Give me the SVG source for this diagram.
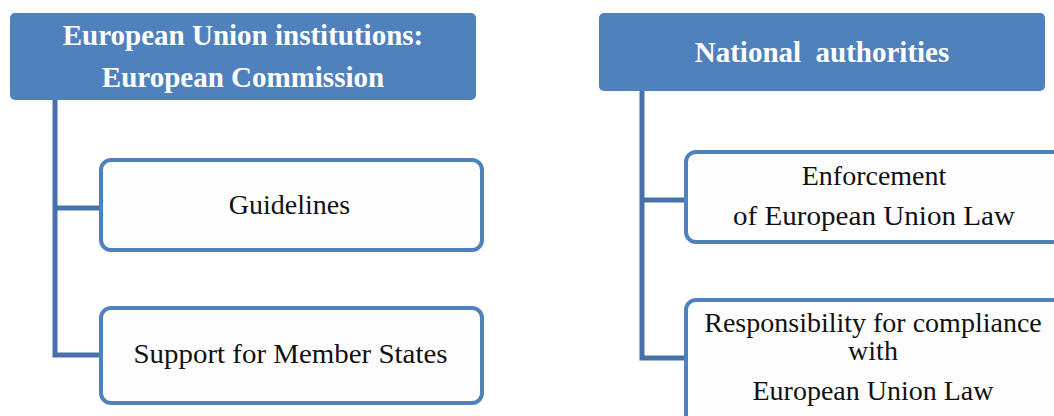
<svg xmlns="http://www.w3.org/2000/svg" width="1054" height="416" viewBox="0 0 1054 416">
<style>
.hdr{fill:#4F81BD;}
.box{fill:#FDFDFD;stroke:#4F81BD;stroke-width:4;}
.ht{font-family:'Liberation Serif',serif;font-weight:bold;font-size:29px;fill:#FFFFFF;text-anchor:middle;}
.bt{font-family:'Liberation Serif',serif;font-size:28px;fill:#111111;text-anchor:middle;}
.conn{fill:none;stroke:#4672AA;stroke-width:5;stroke-linejoin:miter;}
</style>
<rect width="1054" height="416" fill="#FFFFFF"/>
<g id="connectors">
<path class="conn" d="M55,100 V355 H101 M55,208 H101"/>
<path class="conn" d="M642,91 V358 H686 M642,200 H686"/>
</g>
<g id="eu-institutions">
<rect class="hdr" x="10" y="13" width="466" height="87" rx="5"/>
<text class="ht" x="243" y="45">European Union institutions:</text>
<text class="ht" x="243" y="87">European Commission</text>
</g>
<g id="guidelines">
<rect class="box" x="101" y="160" width="381" height="90" rx="10"/>
<text class="bt" x="289.5" y="214">Guidelines</text>
</g>
<g id="support">
<rect class="box" x="101" y="308" width="381" height="95" rx="10"/>
<text class="bt" x="290.5" y="363" textLength="314" lengthAdjust="spacingAndGlyphs">Support for Member States</text>
</g>
<g id="national-authorities">
<rect class="hdr" x="599" y="13" width="446" height="78" rx="5"/>
<text class="ht" x="822" y="62" xml:space="preserve">National  authorities</text>
</g>
<g id="enforcement">
<rect class="box" x="686" y="152" width="390" height="90" rx="10"/>
<text class="bt" x="874" y="185">Enforcement</text>
<text class="bt" x="874" y="225" textLength="282" lengthAdjust="spacingAndGlyphs">of European Union Law</text>
</g>
<g id="responsibility">
<rect class="box" x="686" y="300" width="390" height="130" rx="10"/>
<text class="bt" x="873" y="332">Responsibility for compliance</text>
<text class="bt" x="873" y="360">with</text>
<text class="bt" x="873" y="400">European Union Law</text>
</g>
</svg>
